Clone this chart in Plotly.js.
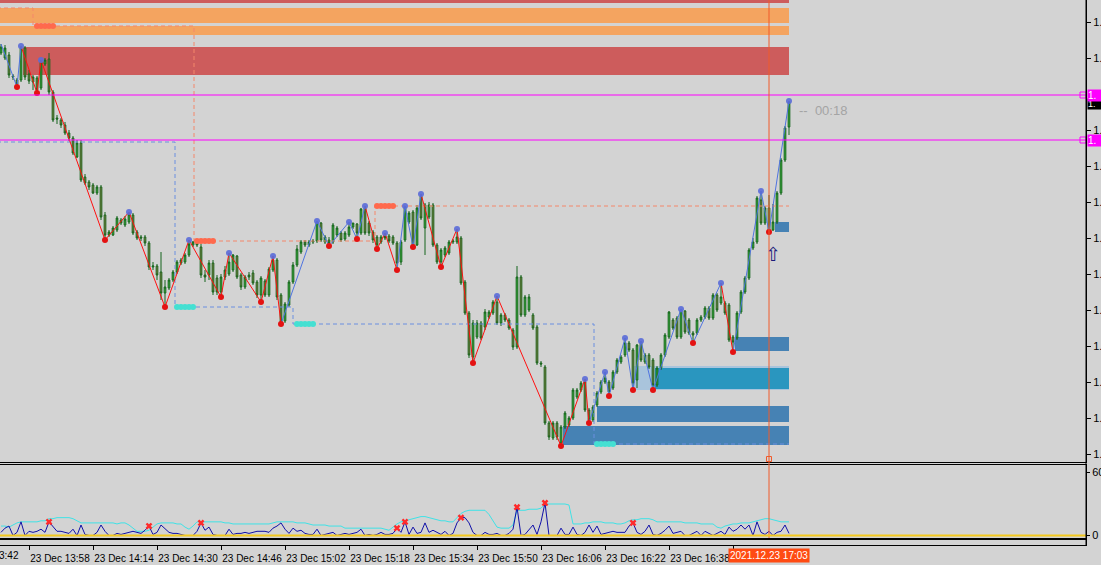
<!DOCTYPE html>
<html><head><meta charset="utf-8">
<script src="https://cdn.plot.ly/plotly-3.0.1.min.js"></script>
<style>html,body{margin:0;padding:0;background:#d3d3d3;overflow:hidden}#chart{width:1101px;height:565px}</style>
</head><body><div id="chart"></div>
<script>
// 1-minute bars, 23 Dec 2021 from 13:51
const startTime = Date.UTC(2021, 11, 23, 13, 51);
const open = [1.13447,1.13442,1.13445,1.13424,1.13420,1.13420,1.13452,1.13426,1.13418,1.13422,
1.13412,1.13436,1.13441,1.13408,1.13382,1.13380,1.13375,1.13367,1.13362,1.13343,
1.13357,1.13323,1.13318,1.13315,1.13307,1.13313,1.13285,1.13265,1.13265,1.13270,
1.13280,1.13275,1.13278,1.13285,1.13268,1.13263,1.13263,1.13257,1.13233,1.13234,
1.13228,1.13207,1.13212,1.13220,1.13228,1.13237,1.13238,1.13245,1.13255,1.13258,
1.13253,1.13225,1.13225,1.13237,1.13222,1.13208,1.13223,1.13226,1.13230,1.13244,
1.13225,1.13213,1.13225,1.13227,1.13218,1.13205,1.13219,1.13205,1.13230,1.13240,
1.13205,1.13179,1.13195,1.13218,1.13235,1.13248,1.13258,1.13255,1.13258,1.13259,
1.13277,1.13258,1.13260,1.13258,1.13265,1.13267,1.13261,1.13265,1.13273,1.13276,
1.13267,1.13292,1.13277,1.13268,1.13263,1.13258,1.13264,1.13264,1.13263,1.13257,
1.13238,1.13260,1.13278,1.13288,1.13255,1.13304,1.13272,1.13283,1.13295,1.13255,
1.13238,1.13245,1.13247,1.13258,1.13258,1.13262,1.13218,1.13187,1.13143,1.13163,
1.13177,1.13173,1.13183,1.13187,1.13198,1.13177,1.13185,1.13180,1.13170,1.13153,
1.13223,1.13185,1.13190,1.13185,1.13173,1.13137,1.13133,1.13077,1.13062,1.13077,
1.13057,1.13073,1.13075,1.13082,1.13103,1.13110,1.13118,1.13090,1.13080,1.13095,
1.13108,1.13118,1.13118,1.13112,1.13128,1.13138,1.13145,1.13157,1.13150,1.13120,
1.13158,1.13138,1.13145,1.13140,1.13115,1.13132,1.13145,1.13163,1.13180,1.13182,
1.13163,1.13189,1.13180,1.13167,1.13167,1.13180,1.13183,1.13192,1.13182,1.13205,
1.13197,1.13197,1.13195,1.13163,1.13162,1.13188,1.13208,1.13222,1.13252,1.13258,
1.13300,1.13277,1.13292,1.13270,1.13278,1.13307,1.13340,1.13373];
const high = [1.13456,1.13455,1.13448,1.13426,1.13422,1.13454,1.13454,1.13430,1.13425,1.13424,
1.13440,1.13442,1.13447,1.13410,1.13385,1.13382,1.13378,1.13370,1.13364,1.13360,
1.13360,1.13326,1.13320,1.13317,1.13315,1.13315,1.13288,1.13270,1.13274,1.13284,
1.13282,1.13284,1.13288,1.13287,1.13270,1.13265,1.13265,1.13259,1.13238,1.13236,
1.13248,1.13220,1.13222,1.13230,1.13240,1.13242,1.13247,1.13260,1.13259,1.13258,
1.13256,1.13230,1.13240,1.13240,1.13225,1.13226,1.13234,1.13247,1.13246,1.13245,
1.13227,1.13225,1.13228,1.13230,1.13220,1.13224,1.13221,1.13233,1.13244,1.13242,
1.13207,1.13198,1.13220,1.13238,1.13255,1.13260,1.13260,1.13260,1.13261,1.13279,
1.13278,1.13265,1.13263,1.13277,1.13274,1.13269,1.13269,1.13278,1.13277,1.13277,
1.13292,1.13294,1.13279,1.13270,1.13265,1.13265,1.13267,1.13266,1.13265,1.13259,
1.13260,1.13294,1.13289,1.13290,1.13295,1.13306,1.13297,1.13298,1.13297,1.13257,
1.13252,1.13254,1.13260,1.13261,1.13271,1.13264,1.13220,1.13189,1.13180,1.13180,
1.13179,1.13191,1.13190,1.13200,1.13204,1.13187,1.13187,1.13182,1.13172,1.13234,
1.13225,1.13205,1.13206,1.13187,1.13175,1.13139,1.13135,1.13079,1.13079,1.13079,
1.13075,1.13089,1.13084,1.13112,1.13112,1.13119,1.13121,1.13092,1.13095,1.13109,
1.13120,1.13128,1.13120,1.13130,1.13142,1.13145,1.13162,1.13159,1.13152,1.13156,
1.13159,1.13147,1.13147,1.13142,1.13134,1.13147,1.13167,1.13189,1.13182,1.13184,
1.13191,1.13190,1.13182,1.13169,1.13182,1.13185,1.13194,1.13194,1.13207,1.13207,
1.13217,1.13199,1.13197,1.13165,1.13189,1.13210,1.13224,1.13252,1.13262,1.13304,
1.13309,1.13294,1.13305,1.13296,1.13309,1.13342,1.13374,1.13399];
const low = [1.13445,1.13440,1.13422,1.13420,1.13413,1.13418,1.13420,1.13416,1.13410,1.13407,
1.13410,1.13434,1.13405,1.13378,1.13376,1.13372,1.13365,1.13359,1.13345,1.13342,
1.13318,1.13315,1.13310,1.13306,1.13305,1.13280,1.13260,1.13263,1.13264,1.13268,
1.13275,1.13273,1.13276,1.13265,1.13260,1.13259,1.13254,1.13230,1.13230,1.13220,
1.13200,1.13193,1.13210,1.13218,1.13226,1.13235,1.13236,1.13243,1.13253,1.13253,
1.13222,1.13218,1.13220,1.13205,1.13205,1.13203,1.13220,1.13224,1.13228,1.13221,
1.13210,1.13211,1.13220,1.13215,1.13202,1.13198,1.13203,1.13203,1.13228,1.13200,
1.13176,1.13177,1.13193,1.13216,1.13233,1.13246,1.13253,1.13253,1.13256,1.13257,
1.13258,1.13256,1.13254,1.13256,1.13263,1.13258,1.13259,1.13263,1.13271,1.13261,
1.13265,1.13265,1.13264,1.13257,1.13251,1.13256,1.13260,1.13257,1.13255,1.13230,
1.13235,1.13258,1.13276,1.13253,1.13254,1.13280,1.13245,1.13281,1.13253,1.13236,
1.13233,1.13243,1.13245,1.13256,1.13256,1.13215,1.13185,1.13142,1.13137,1.13161,
1.13160,1.13170,1.13181,1.13185,1.13175,1.13174,1.13178,1.13170,1.13150,1.13151,
1.13183,1.13183,1.13188,1.13170,1.13135,1.13133,1.13075,1.13060,1.13060,1.13060,
1.13054,1.13071,1.13073,1.13080,1.13101,1.13108,1.13088,1.13077,1.13078,1.13093,
1.13106,1.13116,1.13104,1.13110,1.13126,1.13136,1.13143,1.13148,1.13110,1.13112,
1.13138,1.13136,1.13131,1.13110,1.13113,1.13130,1.13143,1.13161,1.13170,1.13161,
1.13161,1.13166,1.13165,1.13157,1.13165,1.13178,1.13181,1.13180,1.13180,1.13188,
1.13195,1.13185,1.13158,1.13148,1.13160,1.13186,1.13206,1.13220,1.13250,1.13256,
1.13275,1.13275,1.13268,1.13269,1.13276,1.13305,1.13338,1.13365];
const close = [1.13453,1.13452,1.13425,1.13423,1.13416,1.13452,1.13423,1.13419,1.13423,1.13410,
1.13438,1.13440,1.13408,1.13380,1.13381,1.13375,1.13367,1.13362,1.13347,1.13357,
1.13320,1.13317,1.13313,1.13307,1.13313,1.13283,1.13265,1.13268,1.13272,1.13282,
1.13277,1.13281,1.13286,1.13267,1.13262,1.13262,1.13257,1.13233,1.13234,1.13225,
1.13207,1.13213,1.13220,1.13228,1.13238,1.13240,1.13245,1.13256,1.13258,1.13255,
1.13225,1.13223,1.13237,1.13208,1.13208,1.13223,1.13230,1.13238,1.13245,1.13223,
1.13213,1.13223,1.13223,1.13217,1.13205,1.13222,1.13205,1.13231,1.13240,1.13203,
1.13178,1.13196,1.13218,1.13235,1.13251,1.13258,1.13255,1.13258,1.13259,1.13278,
1.13260,1.13263,1.13257,1.13275,1.13272,1.13260,1.13267,1.13273,1.13277,1.13267,
1.13291,1.13267,1.13267,1.13260,1.13255,1.13263,1.13262,1.13259,1.13257,1.13237,
1.13258,1.13293,1.13287,1.13255,1.13292,1.13282,1.13295,1.13295,1.13255,1.13238,
1.13250,1.13252,1.13258,1.13259,1.13263,1.13217,1.13187,1.13145,1.13177,1.13177,
1.13162,1.13188,1.13188,1.13198,1.13177,1.13185,1.13180,1.13172,1.13153,1.13223,
1.13185,1.13203,1.13203,1.13172,1.13137,1.13136,1.13077,1.13063,1.13077,1.13063,
1.13073,1.13087,1.13082,1.13110,1.13110,1.13117,1.13090,1.13080,1.13093,1.13107,
1.13118,1.13122,1.13108,1.13128,1.13140,1.13143,1.13157,1.13150,1.13117,1.13155,
1.13140,1.13145,1.13133,1.13115,1.13132,1.13145,1.13165,1.13188,1.13172,1.13163,
1.13190,1.13168,1.13167,1.13165,1.13180,1.13183,1.13192,1.13182,1.13205,1.13190,
1.13203,1.13187,1.13160,1.13158,1.13187,1.13208,1.13222,1.13250,1.13258,1.13302,
1.13277,1.13292,1.13270,1.13278,1.13307,1.13340,1.13372,1.13398];

// zigzag pivots: bar index (alternating high / low), trend of the leg ending at each pivot
const zzIdx = [0,4,5,9,10,26,32,41,47,55,57,65,68,70,79,82,87,89,91,94,96,99,101,103,105,110,114,118,124,140,146,147,151,152,156,158,160,163,170,173,180,183,190,192,197];
const zzTrend = ['up','up','down','down','down','down','down','down','down','down','down','down','down',
 'up','up','up','up','up','down','down','down','up','up','up','down','down','down','down','down','down','down',
 'up','up','up','up','up','up','up','up','up','down','up','up','up'];

// supply / demand zones (prices, starting bar)
const zoneTop    = [1.13500,1.13492,1.13474,1.13453,1.13134,1.13132,1.13278,1.13163,1.13094,1.13074];
const zoneBottom = [1.13497,1.13477,1.13465,1.13425,1.13110,1.13111,1.13268,1.13149,1.13078,1.13055];
const zoneFrom   = [-1,-1,-1,5.5,158,163.5,193.5,183.5,149,140.5];
const zoneKind   = ['strongSupply','supply','supply','strongSupply','tested','fresh','demand','demand','demand','demand'];

// stepped resistance / support levels
const resPrice = [1.13492,1.13474,1.13259,1.13294];
const resFrom  = [-1,8,48.25,93.5];
const supPrice = [1.13358,1.13193,1.13176,1.13056];
const supFrom  = [-1,43.5,73,148.25];

const alertLevels = [1.13405,1.13360];
const cursorBar = 192;

// oscillator (lower panel)
const oscMain = [3,7,9,0,3,13,0,4,3,4, 6,3,13,9,4,4,3,2,6,0, 10,1,0,0,3,10,4,0,0,2, 1,2,3,4,3,2,5,9,1,3,
 10,6,3,2,2,1,0,0,0,4, 12,5,8,1,0,0,0,6,1,2, 2,3,2,3,4,4,4,3,7,9, 12,6,2,7,4,5,2,1,1,6,
 0,1,2,3,0,1,2,1,2,3, 6,0,1,0,1,3,1,1,2,7, 3,13,1,8,2,3,12,3,5,3, 1,4,0,2,12,17,17,12,3,0,
 0,3,1,1,2,0,0,2,6,27, 0,1,6,10,1,13,31,0,0,0, 7,1,1,8,1,0,3,10,3,9, 1,2,3,4,3,3,3,9,12,3,
 1,4,10,1,0,2,5,9,2,3, 4,0,0,2,4,0,4,2,0,2, 4,1,8,4,6,10,6,10,0,13, 3,1,4,0,3,4,10,2];
const oscSignal = [9,9,8,10,12, 13,13,13,13,13,14,14, 16,16,17,17,17,17,16, 14,12,12,12,12,12,12,12,12,12,11,12,12,
 10,7,4,4,4,5, 8,11,12, 12,12,12,11,11, 8,6, 9,13,13, 13,13,13,13,13,12,12, 11,11,11, 11,11,11,11,11,11,11,12,
 13,13,13,13,13,12,12,12,11, 10,10,10,10,9,9,9,9, 7,7,7,7,7,7,7,7,7,7,6, 5, 8,11,13, 14,15,16,17,18,18,
 17,16,15,14,14, 13,13, 17,21,23, 24,24,24,24,24, 20,14,8, 7,7,7, 10, 24,24,24,25,25,25, 26,30,
 30,30,30,30,30,29, 11, 11,11,12,12,13, 13,13,12,12,12, 11,11, 12,14,15,15, 16,16,16,15,
 13,13,13,13,13,13,13,12,12, 12,12,11,11,11,11, 8,7,9,10, 11,11,12,12,12, 13,14,15,16,16, 15,14,13,13,13];
const oscPeaks = [12,37,50,99,101,115,129,136,158];

const tickTimes = ['13:58','14:14','14:30','14:46','15:02','15:18','15:34','15:50','16:06','16:22','16:38','16:54'];
// the 1.13406 level label is hidden behind the alert label, as in the original
const priceTicks = [1.13478,1.13442,1.13370,1.13334,1.13298,1.13262,1.13226,1.13190,1.13154,1.13118,1.13082,1.13046];

// ---------- build ----------
const MIN = 60000;
const t = k => new Date(startTime + k * MIN).toISOString().replace('T', ' ').replace('Z', '');
const times = open.map((_, k) => t(k));
const lastBar = open.length - 1;
const FONT = 'Liberation Sans, Arial, sans-serif';

const traces = [];
function stepPath(prices, froms) {
  const x = [], y = [];
  prices.forEach((p, i) => {
    const to = i < prices.length - 1 ? froms[i + 1] : lastBar;
    x.push(t(froms[i]), t(to)); y.push(p, p);
  });
  return {x, y};
}
const rp = stepPath(resPrice, resFrom), sp = stepPath(supPrice, supFrom);
traces.push({type:'scatter', mode:'lines', x:rp.x, y:rp.y, line:{color:'#f4876a', width:1, dash:'4px,3px'}, hoverinfo:'skip'});
traces.push({type:'scatter', mode:'lines', x:sp.x, y:sp.y, line:{color:'#6a8fe0', width:1, dash:'4px,3px'}, hoverinfo:'skip'});

traces.push({type:'candlestick', x:times, open, high, low, close, whiskerwidth:0, hoverinfo:'skip',
  increasing:{line:{color:'#15641c', width:1}, fillcolor:'#3ec23e'},
  decreasing:{line:{color:'#15641c', width:1}, fillcolor:'#a67c45'}});

const zzPrice = zzIdx.map((k, i) => (i % 2 === 0 ? high[k] : low[k]));
const legs = {up:{x:[], y:[]}, down:{x:[], y:[]}};
for (let i = 1; i < zzIdx.length; i++) {
  const s = legs[zzTrend[i - 1]];
  s.x.push(times[zzIdx[i - 1]], times[zzIdx[i]], null);
  s.y.push(zzPrice[i - 1], zzPrice[i], null);
}
traces.push({type:'scatter', mode:'lines', x:legs.down.x, y:legs.down.y, line:{color:'#ff1010', width:1}, hoverinfo:'skip', connectgaps:false});
traces.push({type:'scatter', mode:'lines', x:legs.up.x, y:legs.up.y, line:{color:'#4f74e0', width:1}, hoverinfo:'skip', connectgaps:false});
const hiX = [], hiY = [], loX = [], loY = [];
zzIdx.forEach((k, i) => { if (i === 0) return; if (i % 2 === 0) { hiX.push(times[k]); hiY.push(zzPrice[i]); } else { loX.push(times[k]); loY.push(zzPrice[i]); } });
traces.push({type:'scatter', mode:'markers', x:hiX, y:hiY, marker:{color:'#5a6bd8', size:6, opacity:0.9}, hoverinfo:'skip'});
traces.push({type:'scatter', mode:'markers', x:loX, y:loY, marker:{color:'#e41212', size:6}, hoverinfo:'skip'});

function pills(prices, froms) {
  const x = [], y = [];
  for (let i = 1; i < prices.length; i++) {
    const s = Math.floor(froms[i]) + 1;
    for (let j = 0; j < 5; j++) { x.push(t(s + j)); y.push(prices[i]); }
  }
  return {x, y};
}
const rpl = pills(resPrice, resFrom), spl = pills(supPrice, supFrom);
traces.push({type:'scatter', mode:'markers', x:rpl.x, y:rpl.y, marker:{color:'#ff6a4d', size:6}, hoverinfo:'skip'});
traces.push({type:'scatter', mode:'markers', x:spl.x, y:spl.y, marker:{color:'#44e0d2', size:6}, hoverinfo:'skip'});

traces.push({type:'scatter', mode:'markers', x:alertLevels.map(() => t(270.5)), y:alertLevels,
  marker:{symbol:'square-open', color:'#ff00ff', size:6, line:{width:1}}, hoverinfo:'skip', cliponaxis:false});
traces.push({type:'scatter', mode:'markers', x:[t(cursorBar)], y:[1.13041],
  marker:{symbol:'square-open', color:'#f05a2a', size:5, line:{width:1}}, hoverinfo:'skip', cliponaxis:false});

traces.push({type:'scatter', mode:'lines', x:times, y:oscSignal, xaxis:'x2', yaxis:'y2', line:{color:'#3fe2e6', width:1}, hoverinfo:'skip'});
traces.push({type:'scatter', mode:'lines', x:times, y:oscMain, xaxis:'x2', yaxis:'y2', line:{color:'#1010a8', width:1}, hoverinfo:'skip'});
traces.push({type:'scatter', mode:'markers', x:oscPeaks.map(k => times[k]), y:oscPeaks.map(k => oscMain[k]), xaxis:'x2', yaxis:'y2',
  marker:{symbol:'x', color:'#ff2a2a', size:6}, hoverinfo:'skip'});
// empty time strip (carries the time axis)
traces.push({type:'scatter', mode:'lines', x:[times[0], times[lastBar]], y:[-5, -5], xaxis:'x3', yaxis:'y3', line:{width:0}, hoverinfo:'skip'});

const zoneColor = {strongSupply:'#cd5c5c', supply:'#f4a460', tested:'#a9c4dc', fresh:'#2a96bf', demand:'#4682b4'};
const shapes = zoneTop.map((top, i) => ({type:'rect', xref:'x', yref:'y', layer:'below',
  x0:t(zoneFrom[i]), x1:t(lastBar), y0:zoneBottom[i], y1:top, fillcolor:zoneColor[zoneKind[i]], line:{width:0}}));
alertLevels.forEach(p => shapes.push({type:'line', xref:'paper', yref:'y', x0:0, x1:1, y0:p, y1:p, line:{color:'#ff00ff', width:1}}));
const py = v => 1 - v / 565;
shapes.push({type:'line', xref:'x', yref:'paper', x0:t(cursorBar), x1:t(cursorBar), y0:py(538), y1:1, line:{color:'#f05a2a', width:1}});
shapes.push({type:'line', xref:'paper', yref:'y2', x0:0, x1:1, y0:0, y1:0, line:{color:'#f2c81e', width:2}});
shapes.push({type:'line', xref:'paper', yref:'paper', x0:1, x1:1, y0:py(545), y1:1, line:{color:'#000', width:1}});

const lbl = {family:FONT, size:10, color:'#000'};
const annotations = [
  {xref:'paper', yref:'paper', x:21/1086, y:py(555), xanchor:'right', yanchor:'middle', text:'23 Dec 13:42', showarrow:false, font:lbl},
  {xref:'x', yref:'paper', x:t(cursorBar), y:py(555), xanchor:'center', yanchor:'middle', text:'2021.12.23 17:03', showarrow:false,
   font:{family:FONT, size:10, color:'#fff'}, bgcolor:'#ff4b12', borderpad:1},
  {xref:'x', yref:'y', x:t(199), y:1.13390, xanchor:'left', yanchor:'middle', text:'--&nbsp;&nbsp;00:18', showarrow:false,
   font:{family:FONT, size:13, color:'#a4a4a4'}},
  {xref:'x', yref:'y', x:t(193), y:1.13246, xanchor:'center', yanchor:'middle', text:'⇧', showarrow:false,
   font:{family:'DejaVu Sans', size:19, color:'#1b1b7a'}},
  {xref:'paper', yref:'y', x:1, y:close[lastBar] - 0.00002, xanchor:'left', yanchor:'middle', xshift:1, text:'1.&nbsp;&nbsp;', showarrow:false,
   font:{family:FONT, size:9, color:'#fff'}, bgcolor:'#000', borderpad:0}
];
alertLevels.forEach(p => annotations.push({xref:'paper', yref:'y', x:1, y:p, xanchor:'left', yanchor:'middle', xshift:1, text:'1.&nbsp;&nbsp;',
  showarrow:false, font:{family:FONT, size:10, color:'#fff'}, bgcolor:'#ff00ff', borderpad:0}));

const xRange = [t(-0.25), t(271.25)];
const xBase = {type:'date', range:xRange, autorange:false, showgrid:false, zeroline:false, fixedrange:true};
const tickMs = tickTimes.map(s => { const [h, m] = s.split(':').map(Number); return t(h * 60 + m - (13 * 60 + 51)); });
const tickTxt = tickTimes.map((s, i) => i === tickTimes.length - 1 ? '' : '23 Dec ' + s);

const layout = {
  width:1101, height:565, margin:{l:0, r:15, t:0, b:0},
  paper_bgcolor:'#d3d3d3', plot_bgcolor:'#d3d3d3', showlegend:false, boxgap:0.4,
  xaxis:Object.assign({}, xBase, {anchor:'y', showticklabels:false, ticks:'', showline:true, linecolor:'#000', linewidth:1, rangeslider:{visible:false}}),
  xaxis2:Object.assign({}, xBase, {anchor:'y2', showticklabels:false, ticks:'', showline:true, mirror:true, linecolor:'#000', linewidth:1}),
  xaxis3:Object.assign({}, xBase, {anchor:'y3', showline:true, mirror:true, linecolor:'#000', linewidth:1, showticklabels:true,
    tickmode:'array', tickvals:tickMs, ticktext:tickTxt, ticks:'outside', ticklen:4, tickcolor:'#000', ticklabelshift:31, tickfont:lbl}),
  yaxis:{domain:[py(461.5), 1], range:[1.130385, 1.135], side:'right', anchor:'x', showgrid:false, zeroline:false, fixedrange:true,
    tickmode:'array', tickvals:priceTicks, ticktext:priceTicks.map(() => '1.'), ticks:'outside', ticklen:4, tickcolor:'#000',
    tickfont:{family:FONT, size:11, color:'#000'}, showline:true, linecolor:'#000', automargin:false},
  yaxis2:{domain:[py(538), py(464.5)], range:[-2.38, 67.6], side:'right', anchor:'x2', showgrid:false, zeroline:false, fixedrange:true,
    tickmode:'array', tickvals:[0, 60], ticktext:['0', '60'], ticks:'outside', ticklen:3, tickcolor:'#000',
    tickfont:{family:FONT, size:11, color:'#000'}, showline:true, linecolor:'#000', automargin:false},
  yaxis3:{domain:[py(545), py(540)], range:[0, 1], side:'right', anchor:'x3', showgrid:false, zeroline:false, fixedrange:true,
    showticklabels:false, ticks:'', showline:true, linecolor:'#000', automargin:false},
  shapes, annotations
};

Plotly.newPlot('chart', traces, layout, {displayModeBar:false, staticPlot:true});
</script></body></html>
